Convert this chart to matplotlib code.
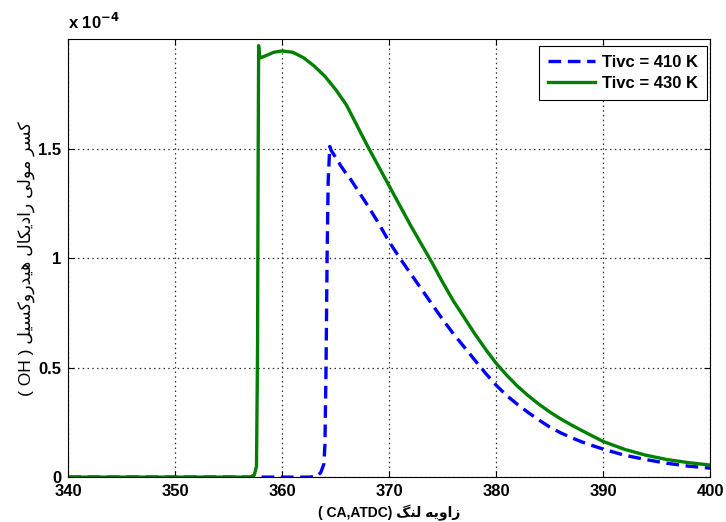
import matplotlib
matplotlib.use("Agg")
import matplotlib.pyplot as plt

# crank angle (deg ATDC) and OH mole fraction (x 1e-4)
ca_430 = [340, 357.0, 357.4, 357.6, 357.7, 357.75, 357.8, 357.85, 358.0, 358.5, 359.2,
          360, 361, 362, 363, 364, 365, 366, 367, 368, 369, 370, 371, 372, 373, 374,
          375, 376, 377, 378, 379, 380, 381, 382, 383, 384, 385, 386, 387, 388, 389,
          390, 392, 394, 396, 398, 400]
oh_430 = [0, 0, 0.01, 0.05, 0.6, 1.4, 1.97, 1.93, 1.915, 1.925, 1.94,
          1.946, 1.94, 1.915, 1.877, 1.83, 1.77, 1.70, 1.605, 1.51, 1.42, 1.33, 1.24, 1.15, 1.065, 0.98,
          0.89, 0.805, 0.73, 0.655, 0.585, 0.52, 0.465, 0.415, 0.372, 0.333, 0.298, 0.267, 0.239, 0.213, 0.188,
          0.163, 0.127, 0.1, 0.08, 0.066, 0.055]

ca_410 = [340, 362.5, 363.2, 363.6, 363.9, 364.0, 364.1, 364.2, 364.3, 364.45, 364.6,
          365, 365.5, 366, 366.4, 367, 368, 369, 370, 371, 372, 373, 374, 375, 376, 377,
          378, 379, 380, 381, 382, 383, 384, 385, 386, 387, 388, 389, 390, 392, 394,
          396, 398, 400]
oh_410 = [0, 0, 0.003, 0.02, 0.06, 0.15, 0.5, 1.0, 1.35, 1.51, 1.49,
          1.46, 1.42, 1.385, 1.36, 1.315, 1.24, 1.16, 1.075, 1.0, 0.93, 0.86, 0.79, 0.72, 0.655, 0.595,
          0.535, 0.475, 0.42, 0.372, 0.332, 0.295, 0.261, 0.229, 0.203, 0.181, 0.161, 0.144, 0.128, 0.1, 0.08,
          0.063, 0.05, 0.041]

labels = ["Tivc = 410 K", "Tivc = 430 K"]
xticks = [340, 350, 360, 370, 380, 390, 400]
yticks = [0, 0.5, 1, 1.5]
ytick_labels = ["0", "0.5", "1", "1.5"]

xlabel_fa = "زاویه لنگ"
ylabel_fa = "کسر مولی رادیکال هیدروکسیل"

# matplotlib has no Arabic shaping, so pick presentation forms by hand
# (isolated, final, initial, medial)
FORMS = {
    "ا": ("\uFE8D", "\uFE8E", None, None),
    "د": ("\uFEA9", "\uFEAA", None, None),
    "ر": ("\uFEAD", "\uFEAE", None, None),
    "ز": ("\uFEAF", "\uFEB0", None, None),
    "و": ("\uFEED", "\uFEEE", None, None),
    "ه": ("\uFEE9", "\uFEEA", "\uFEEB", "\uFEEC"),
    "ل": ("\uFEDD", "\uFEDE", "\uFEDF", "\uFEE0"),
    "ن": ("\uFEE5", "\uFEE6", "\uFEE7", "\uFEE8"),
    "م": ("\uFEE1", "\uFEE2", "\uFEE3", "\uFEE4"),
    "س": ("\uFEB1", "\uFEB2", "\uFEB3", "\uFEB4"),
    "ک": ("\uFB8E", "\uFB8F", "\uFB90", "\uFB91"),
    "گ": ("\uFB92", "\uFB93", "\uFB94", "\uFB95"),
    "ی": ("\uFBFC", "\uFBFD", "\uFBFE", "\uFBFF"),
}


def shape_rtl(text):
    out = []
    for i, ch in enumerate(text):
        if ch not in FORMS:
            out.append(ch)
            continue
        prev = text[i - 1] if i > 0 else ""
        nxt = text[i + 1] if i + 1 < len(text) else ""
        join_prev = prev in FORMS and FORMS[prev][2] is not None
        join_next = FORMS[ch][2] is not None and nxt in FORMS
        iso, fin, ini, med = FORMS[ch]
        if join_prev and join_next:
            out.append(med)
        elif join_prev:
            out.append(fin)
        elif join_next:
            out.append(ini)
        else:
            out.append(iso)
    return "".join(out)[::-1]


plt.rcParams["font.family"] = ["Liberation Sans", "DejaVu Sans"]

fig = plt.figure(figsize=(7.26, 5.22), dpi=100)
ax = fig.add_axes([0.094, 0.086, 0.884, 0.839])

ax.plot(ca_410, [v * 1e-4 for v in oh_410], color="#0000ff", lw=2.4,
        dashes=(3.8, 2.0), label=labels[0])
ax.plot(ca_430, [v * 1e-4 for v in oh_430], color="#008000", lw=2.4,
        label=labels[1])

ax.set_xlim(340, 400)
ax.set_ylim(0, 2e-4)
ax.set_xticks(xticks)
ax.set_xticklabels([str(t) for t in xticks])
ax.set_yticks([t * 1e-4 for t in yticks])
ax.set_yticklabels(ytick_labels)
ax.tick_params(direction="in", top=True, right=True, length=4, labelsize=12, pad=5)
for lab in ax.get_xticklabels() + ax.get_yticklabels():
    lab.set_fontweight("bold")
ax.grid(True, color="#333333", linestyle=(0, (1.2, 2.6)), lw=0.9)
for s in ax.spines.values():
    s.set_linewidth(0.8)

fig.text(0.094, 0.958, r"x 10$^{\mathbf{-4}}$", fontsize=12, fontweight="bold",
         ha="left", va="center")

ax.set_xlabel("( CA,ATDC) " + shape_rtl(xlabel_fa), fontsize=10, fontweight="bold",
              labelpad=4)
ax.set_ylabel("( OH ) " + shape_rtl(ylabel_fa), fontsize=12.5, labelpad=2)

leg = ax.legend(loc="upper right", bbox_to_anchor=(0.995, 0.984), borderaxespad=0,
                prop={"weight": "bold", "size": 12}, handlelength=2.8,
                fancybox=False, framealpha=1, edgecolor="black",
                borderpad=0.55, labelspacing=0.35, handletextpad=0.4)
leg.get_frame().set_linewidth(0.8)

fig.savefig("out.png", dpi=100)
